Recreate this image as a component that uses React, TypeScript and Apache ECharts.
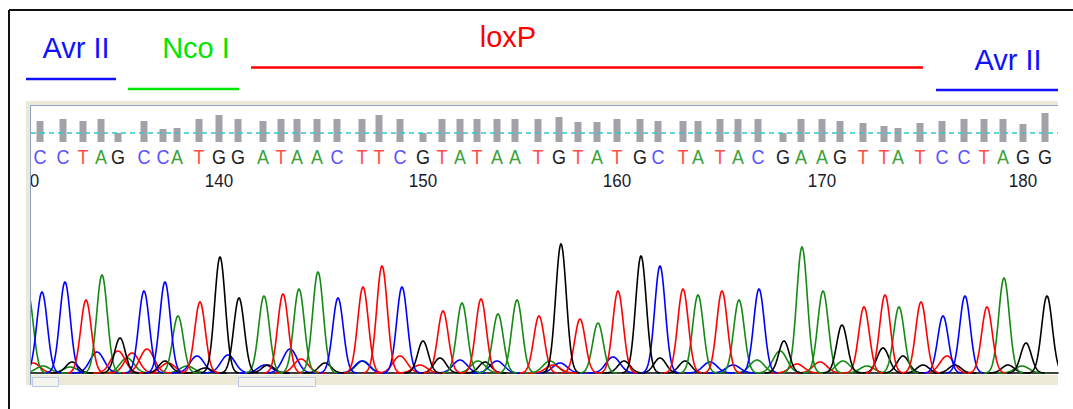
import React, { useEffect, useRef } from "react";
import * as echarts from "echarts";

// Base calls (positions 131..181) and their scan positions
const bases = "CCTAGCCATGGATAACTTCGTATAATGTATGCTATACGAAGTTATCCTAGG".split("");
const basePos = [40, 63, 83, 101, 118, 144, 163, 177, 199, 219, 238, 263, 281, 297, 317, 337, 362, 379, 400, 423, 442, 460, 477, 497, 515, 538, 559, 578, 597, 617, 640, 658, 683, 698, 720, 738, 758, 783, 801, 822, 840, 863, 884, 898, 920, 942, 964, 984, 1003, 1023, 1045];
const quality = [21, 23, 21, 23, 9, 21, 13, 14, 23, 27, 23, 21, 23, 23, 23, 23, 23, 27, 23, 9, 23, 23, 23, 23, 23, 23, 25, 20, 20, 23, 23, 21, 21, 21, 23, 23, 23, 9, 23, 23, 21, 19, 16, 14, 19, 21, 23, 23, 23, 18, 29];
const qualityThreshold = 9;

const tickLabels = ["130", "140", "150", "160", "170", "180"];
const tickPos = [25, 219, 423, 617, 822, 1023];

// Trace peaks per channel: [scan position, intensity]
const greenMain = [[28, 80], [102, 98], [178, 57], [264, 77], [299, 84], [318, 101], [462, 70], [498, 59], [517, 73], [598, 50], [698, 78], [739, 73], [802, 126], [823, 82], [899, 66], [1004, 95]];
const greenMinor = [[43, 7], [70, 6], [127, 15], [187, 7], [363, 12], [478, 12], [550, 12], [757, 13], [780, 22], [843, 12], [867, 7], [1022, 7]];
const blueMain = [[42, 81], [65, 91], [144, 82], [165, 91], [338, 75], [402, 86], [660, 107], [759, 84], [943, 57], [965, 77]];
const blueMinor = [[97, 21], [197, 17], [228, 18], [265, 8], [290, 24], [362, 12], [460, 13], [497, 12], [560, 10], [613, 16], [710, 11], [733, 8]];
const redMain = [[86, 73], [200, 71], [283, 79], [363, 86], [382, 107], [443, 62], [481, 74], [539, 57], [580, 54], [618, 82], [683, 84], [722, 82], [864, 66], [885, 78], [921, 71], [987, 66]];
const redMinor = [[33, 10], [118, 22], [132, 20], [147, 24], [168, 10], [301, 14], [400, 17], [420, 8], [553, 8], [797, 9], [820, 11], [947, 17]];
const blackMain = [[120, 35], [220, 116], [239, 75], [423, 32], [561, 129], [641, 117], [784, 32], [842, 48], [1026, 30], [1047, 77]];
const blackMinor = [[72, 11], [165, 12], [205, 5], [268, 8], [325, 10], [440, 15], [485, 11], [624, 12], [660, 15], [685, 12], [883, 25], [903, 17], [923, 8], [955, 8], [1008, 8]];

const baseColor: Record<string, string> = { A: "#3da23a", C: "#5b52ff", G: "#222222", T: "#ff4d45" };
const FONT = "'Liberation Sans', Arial, sans-serif";

const peakSeries = (data: number[][], color: string, sigma: number) => ({
  type: "custom",
  xAxisIndex: 1,
  yAxisIndex: 1,
  clip: true,
  silent: true,
  data,
  renderItem: (params: any, api: any) => {
    const pos = api.value(0);
    const h = api.value(1);
    const pts: number[][] = [];
    for (let t = -3.6 * sigma; t <= 3.6 * sigma + 0.01; t += 0.5) {
      pts.push(api.coord([pos + t, h * Math.exp(-(t * t) / (2 * sigma * sigma))]));
    }
    const cs = params.coordSys;
    return {
      type: "group",
      clipPath: { type: "rect", shape: { x: cs.x, y: cs.y - 2, width: cs.width, height: cs.height + 4 } },
      children: [
        { type: "polyline", shape: { points: pts }, style: { stroke: color, fill: "none", lineWidth: 1.6 } },
      ],
    };
  },
});

export default function App() {
  const ref = useRef<HTMLDivElement>(null);
  useEffect(() => {
    document.body.style.margin = "0";
    const chart = echarts.init(ref.current!, null, { renderer: "svg" });
    const option: any = {
      animation: false,
      backgroundColor: "#ffffff",
      grid: [
        { left: 31, right: 15, top: 110, height: 32 },
        { left: 31, right: 15, top: 233, height: 141 },
      ],
      xAxis: [
        { gridIndex: 0, type: "value", min: 31, max: 1058, show: false },
        {
          gridIndex: 1, type: "value", min: 31, max: 1058, show: true,
          axisLine: { show: true, lineStyle: { color: "#000", width: 1.5 } },
          axisTick: { show: false }, axisLabel: { show: false }, splitLine: { show: false },
        },
      ],
      yAxis: [
        { gridIndex: 0, type: "value", min: 0, max: 32, show: false },
        { gridIndex: 1, type: "value", min: -1, max: 140, show: false },
      ],
      graphic: [
        // outer frame
        { type: "line", z: 0, shape: { x1: 9, y1: 10, x2: 1073, y2: 10 }, style: { stroke: "#111", lineWidth: 2 } },
        { type: "line", z: 0, shape: { x1: 9, y1: 10, x2: 9, y2: 409 }, style: { stroke: "#111", lineWidth: 2 } },
        // viewer panel
        { type: "rect", z: 0, shape: { x: 26, y: 101, width: 1032, height: 284 }, style: { fill: "#ece9d8" } },
        { type: "rect", z: 0, shape: { x: 31, y: 106, width: 1027, height: 269 }, style: { fill: "#ffffff" } },
        { type: "line", z: 0, shape: { x1: 30.5, y1: 105, x2: 30.5, y2: 385 }, style: { stroke: "#8ea4c6", lineWidth: 1 } },
        { type: "line", z: 0, shape: { x1: 30, y1: 105.5, x2: 1058, y2: 105.5 }, style: { stroke: "#8ea4c6", lineWidth: 1 } },
        { type: "rect", z: 0, shape: { x: 32.5, y: 377.5, width: 26, height: 9 }, style: { fill: "#f4f3ee", stroke: "#b9c9e6", lineWidth: 1 } },
        { type: "rect", z: 0, shape: { x: 238.5, y: 377.5, width: 77, height: 9 }, style: { fill: "#f4f3ee", stroke: "#b9c9e6", lineWidth: 1 } },
        // feature annotations
        { type: "text", z: 5, style: { text: "Avr II", x: 76, y: 48, fill: "#1010ff", font: `29px ${FONT}`, textAlign: "center", textVerticalAlign: "middle" } },
        { type: "line", z: 5, shape: { x1: 26, y1: 79, x2: 116, y2: 79 }, style: { stroke: "#1010ff", lineWidth: 2.5 } },
        { type: "text", z: 5, style: { text: "Nco I", x: 196, y: 48, fill: "#00e600", font: `29px ${FONT}`, textAlign: "center", textVerticalAlign: "middle" } },
        { type: "line", z: 5, shape: { x1: 128, y1: 89, x2: 239, y2: 89 }, style: { stroke: "#00e600", lineWidth: 2.5 } },
        { type: "text", z: 5, style: { text: "loxP", x: 508, y: 37, fill: "#ff0000", font: `29px ${FONT}`, textAlign: "center", textVerticalAlign: "middle" } },
        { type: "line", z: 5, shape: { x1: 251, y1: 67.5, x2: 923, y2: 67.5 }, style: { stroke: "#ff0000", lineWidth: 2.5 } },
        { type: "text", z: 5, style: { text: "Avr II", x: 1008, y: 60, fill: "#1010ff", font: `29px ${FONT}`, textAlign: "center", textVerticalAlign: "middle" } },
        { type: "line", z: 5, shape: { x1: 936, y1: 90, x2: 1058, y2: 90 }, style: { stroke: "#1010ff", lineWidth: 2.5 } },
      ],
      series: [
        {
          type: "bar",
          xAxisIndex: 0,
          yAxisIndex: 0,
          barWidth: 7,
          silent: true,
          itemStyle: { color: "#a2a2a8" },
          data: basePos.map((p, i) => [p, quality[i]]),
          markLine: {
            silent: true,
            symbol: ["none", "none"],
            label: { show: false },
            lineStyle: { color: "#2fc8c8", type: [5, 4], width: 1.5 },
            data: [{ yAxis: qualityThreshold }],
          },
        },
        {
          type: "custom",
          xAxisIndex: 0,
          yAxisIndex: 0,
          silent: true,
          data: basePos.map((p, i) => [p, i]),
          renderItem: (params: any, api: any) => {
            const i = api.value(1);
            const c = api.coord([api.value(0), 0]);
            return {
              type: "text",
              x: c[0], y: c[1] + 15,
              scaleY: 1.12,
              style: { text: bases[i], fill: baseColor[bases[i]], font: `18px ${FONT}`, textAlign: "center", textVerticalAlign: "middle" },
            };
          },
        },
        {
          type: "custom",
          xAxisIndex: 0,
          yAxisIndex: 0,
          silent: true,
          data: tickPos.map((p, i) => [p, i]),
          renderItem: (params: any, api: any) => {
            const i = api.value(1);
            const c = api.coord([api.value(0), 0]);
            const cs = params.coordSys;
            return {
              type: "group",
              clipPath: { type: "rect", shape: { x: cs.x, y: cs.y, width: cs.width, height: 120 } },
              children: [
                {
                  type: "text",
                  x: c[0], y: c[1] + 39,
                  scaleY: 1.12,
                  style: { text: tickLabels[i], fill: "#1a1a2a", font: `17px ${FONT}`, textAlign: "center", textVerticalAlign: "middle" },
                },
              ],
            };
          },
        },
        peakSeries(greenMinor, "#138a13", 7),
        peakSeries(blueMinor, "#0000ff", 7),
        peakSeries(redMinor, "#ff0000", 7),
        peakSeries(blackMinor, "#000000", 6),
        peakSeries(greenMain, "#138a13", 5.3),
        peakSeries(blueMain, "#0000ff", 5.3),
        peakSeries(redMain, "#ff0000", 5.3),
        peakSeries(blackMain, "#000000", 5.3),
      ],
    };
    chart.setOption(option);
    return () => chart.dispose();
  }, []);
  return <div ref={ref} style={{ width: 1073, height: 409 }} />;
}
